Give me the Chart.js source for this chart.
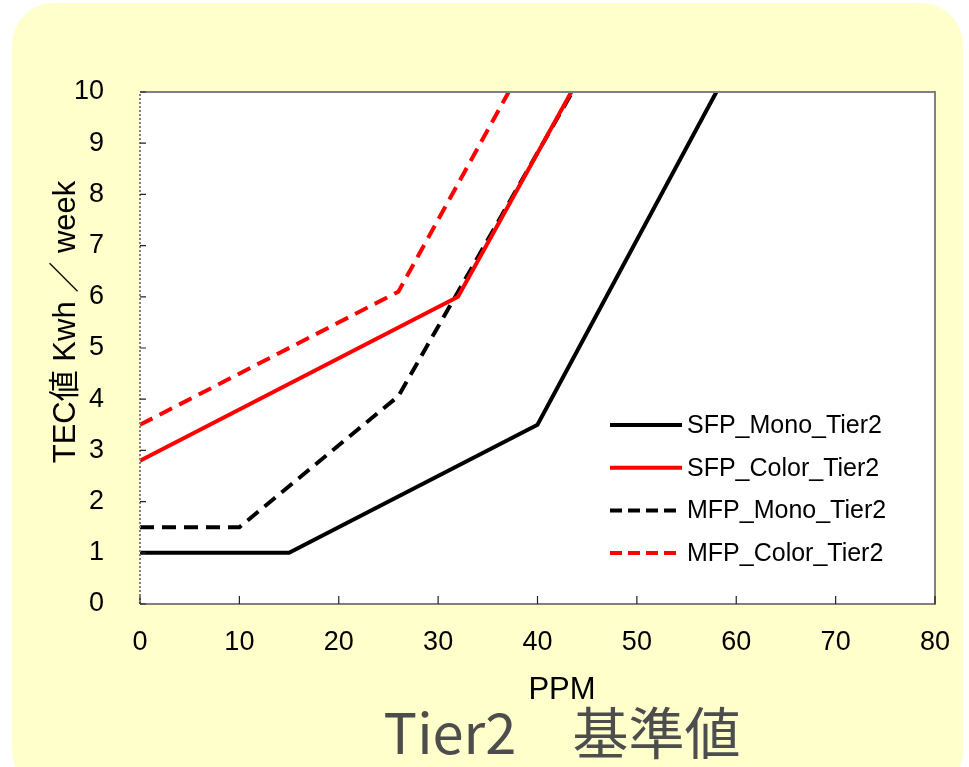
<!DOCTYPE html>
<html>
<head>
<meta charset="utf-8">
<script src="https://cdn.jsdelivr.net/npm/chart.js@4/dist/chart.umd.min.js"></script>
<style>
  html, body { margin: 0; padding: 0; background: #fff; }
  #wrap { width: 969px; height: 767px; }
</style>
</head>
<body>
<div id="wrap"><canvas id="tecChart" width="969" height="767"></canvas></div>
<script>
// values (PPM, TEC kWh/week)
const sfpMono = [{ x: 0, y: 1 }, { x: 15, y: 1 }, { x: 40, y: 3.5 }, { x: 58, y: 10 }];
const sfpColor = [{ x: 0, y: 2.8 }, { x: 32, y: 6 }, { x: 43.4, y: 10 }];
const mfpMono = [{ x: 0, y: 1.5 }, { x: 10, y: 1.5 }, { x: 26, y: 4.06 }, { x: 43.5, y: 10 }];
const mfpColor = [{ x: 0, y: 3.5 }, { x: 26, y: 6.1 }, { x: 37.1, y: 10 }];

const seriesNames = ['SFP_Mono_Tier2', 'SFP_Color_Tier2', 'MFP_Mono_Tier2', 'MFP_Color_Tier2'];
const xTitle = 'PPM';
const yTitle = 'TEC値 Kwh ／ week';
const bottomTitle = 'Tier2\u3000基準値';

const tickFont = '"Liberation Sans", Arial, sans-serif';
const textFont = '"Liberation Sans", Arial, "Noto Sans CJK JP", sans-serif';

// yellow rounded panel, plot border, inward ticks, legend and titles
const decorPlugin = {
  id: 'decor',
  beforeDraw(chart) {
    const ctx = chart.ctx;
    const a = chart.chartArea;
    ctx.save();
    ctx.fillStyle = '#ffffcc';
    ctx.beginPath();
    ctx.roundRect(12, 3, 951, 790, 42);
    ctx.fill();
    ctx.fillStyle = '#ffffff';
    ctx.fillRect(a.left, a.top, a.right - a.left, a.bottom - a.top);
    ctx.restore();
  },
  afterDraw(chart) {
    const ctx = chart.ctx;
    const a = chart.chartArea;
    const xs = chart.scales.x;
    const ys = chart.scales.y;
    ctx.save();
    // border
    ctx.strokeStyle = '#808080';
    ctx.lineWidth = 2;
    ctx.beginPath();
    ctx.moveTo(a.left, a.top);
    ctx.lineTo(a.right, a.top);
    ctx.lineTo(a.right, a.bottom);
    ctx.lineTo(a.left, a.bottom);
    ctx.stroke();
    ctx.setLineDash([2, 2]);
    ctx.beginPath();
    ctx.moveTo(a.left, a.bottom);
    ctx.lineTo(a.left, a.top);
    ctx.stroke();
    ctx.setLineDash([]);
    // inward ticks
    ctx.strokeStyle = '#222';
    ctx.lineWidth = 1.2;
    ctx.beginPath();
    xs.ticks.forEach(t => {
      const px = xs.getPixelForValue(t.value);
      ctx.moveTo(px, a.bottom);
      ctx.lineTo(px, a.bottom - 8);
    });
    ys.ticks.forEach(t => {
      const py = ys.getPixelForValue(t.value);
      ctx.moveTo(a.left, py);
      ctx.lineTo(a.left + 6, py);
    });
    ctx.stroke();
    // legend
    const lx = 610, ly = 425, gap = 42.7;
    chart.data.datasets.forEach((ds, i) => {
      const y = ly + i * gap;
      ctx.strokeStyle = ds.borderColor;
      ctx.lineWidth = 4;
      ctx.setLineDash(ds.borderDash.length ? [12, 6] : []);
      ctx.beginPath();
      ctx.moveTo(lx, y);
      ctx.lineTo(lx + 72, y);
      ctx.stroke();
      ctx.setLineDash([]);
      ctx.fillStyle = '#000';
      ctx.font = '25px ' + textFont;
      ctx.textAlign = 'left';
      ctx.textBaseline = 'middle';
      ctx.fillText(ds.label, lx + 77, y + 1);
    });
    // axis titles
    ctx.fillStyle = '#000';
    ctx.textAlign = 'center';
    ctx.textBaseline = 'middle';
    ctx.font = '31px ' + textFont;
    ctx.fillText(xTitle, 562, 690);
    ctx.save();
    ctx.translate(66, 322);
    ctx.rotate(-Math.PI / 2);
    ctx.font = '31px ' + textFont;
    ctx.fillText(yTitle, 0, 0);
    ctx.restore();
    ctx.fillStyle = '#4d4d4d';
    ctx.font = '56px "Noto Sans CJK JP", sans-serif';
    ctx.fillText(bottomTitle, 562, 733);
    ctx.restore();
  }
};

const lineDefaults = { fill: false, pointRadius: 0, pointHoverRadius: 0, borderWidth: 4, tension: 0 };

new Chart(document.getElementById('tecChart').getContext('2d'), {
  type: 'line',
  data: {
    datasets: [
      { ...lineDefaults, label: seriesNames[0], data: sfpMono, borderColor: '#000000', borderDash: [] },
      { ...lineDefaults, label: seriesNames[1], data: sfpColor, borderColor: '#ff0000', borderDash: [] },
      { ...lineDefaults, label: seriesNames[2], data: mfpMono, borderColor: '#000000', borderDash: [14, 8] },
      { ...lineDefaults, label: seriesNames[3], data: mfpColor, borderColor: '#ff0000', borderDash: [14, 8] }
    ]
  },
  options: {
    responsive: false,
    animation: false,
    layout: { padding: { left: 0, top: 92, right: 34, bottom: 0 } },
    plugins: {
      legend: { display: false },
      tooltip: { enabled: false }
    },
    scales: {
      x: {
        type: 'linear',
        min: 0,
        max: 80,
        ticks: { stepSize: 10, color: '#000', padding: 14, font: { family: tickFont, size: 27 } },
        grid: { display: false },
        border: { display: false },
        afterFit(scale) { scale.height = 163; }
      },
      y: {
        min: 0,
        max: 10,
        ticks: { stepSize: 1, color: '#000', padding: 28, font: { family: tickFont, size: 27 } },
        grid: { display: false },
        border: { display: false },
        afterFit(scale) { scale.width = 140; }
      }
    }
  },
  plugins: [decorPlugin]
});
</script>
</body>
</html>
